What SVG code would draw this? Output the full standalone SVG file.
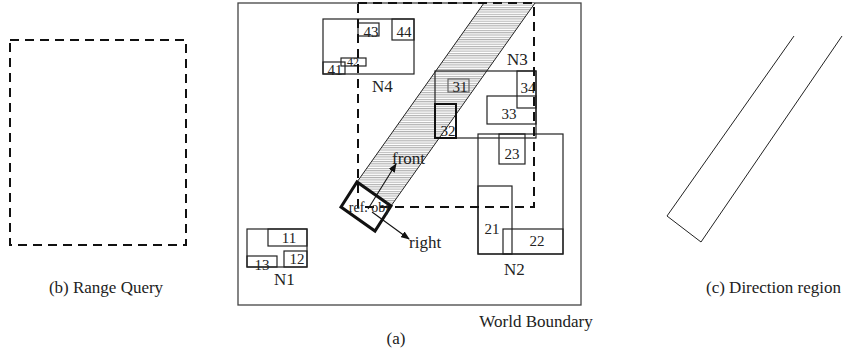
<svg xmlns="http://www.w3.org/2000/svg" width="843" height="358" viewBox="0 0 843 358">
<style>
text{font-family:"Liberation Serif","Times New Roman",serif;fill:#222;}
.lbl{font-size:17px;}
.num{font-size:15px;text-anchor:middle;}
.r{fill:none;stroke:#222;stroke-width:1.2;}
.g{fill:none;stroke:#666;stroke-width:1.2;}
.dash{fill:none;stroke:#111;stroke-width:2;stroke-dasharray:9 6;}
.thick{fill:none;stroke:#111;stroke-width:3;}
.edge{stroke:#222;stroke-width:1;fill:none;}
.arr{stroke:#111;stroke-width:1.1;fill:none;marker-end:url(#ah);}
</style>
<defs>
<pattern id="hatch" width="4" height="2.3" patternUnits="userSpaceOnUse">
<rect width="4" height="2.3" fill="#fff"/>
<line x1="0" y1="0.6" x2="4" y2="0.6" stroke="#777" stroke-width="0.7"/>
</pattern>
<marker id="ah" markerWidth="9" markerHeight="7" refX="8" refY="3.5" orient="auto" markerUnits="userSpaceOnUse">
<path d="M0,0 L9,3.5 L0,7 z" fill="#111"/>
</marker>
</defs>
<rect width="843" height="358" fill="#fff"/>

<g id="range-query-b">
<rect class="dash" x="10" y="40" width="176" height="205"/>
<text class="lbl" x="106" y="293" text-anchor="middle">(b) Range Query</text>
</g>

<g id="world">
<rect x="238" y="3" width="343" height="302" fill="none" stroke="#444" stroke-width="1.3"/>
<text class="lbl" x="536" y="327" text-anchor="middle">World Boundary</text>
<text class="lbl" x="396" y="344" text-anchor="middle">(a)</text>
</g>

<g id="direction-strip">
<polygon points="357,182 484,3 535,3 391,206" fill="url(#hatch)" stroke="none"/>
<line class="edge" x1="357" y1="182" x2="484" y2="3"/>
<line class="edge" x1="391" y1="206" x2="535" y2="3"/>
</g>

<g id="N4">
<rect class="r" x="323" y="19" width="91" height="55"/>
<rect class="r" x="358" y="23" width="21" height="13"/>
<rect class="r" x="392" y="19" width="22" height="21"/>
<rect class="r" x="341" y="58" width="25" height="8"/>
<rect class="r" x="323" y="62" width="22" height="12"/>
<text class="num" x="371" y="37">43</text>
<text class="num" x="404" y="37">44</text>
<text class="num" x="353" y="66" style="font-size:12px">42</text>
<text class="num" x="335" y="75">41</text>
<text class="lbl" x="372" y="92">N4</text>
</g>

<g id="N3">
<rect class="r" x="435" y="71" width="101" height="67"/>
<rect class="g" x="448" y="79" width="21" height="13"/>
<rect class="r" x="517" y="71" width="19" height="37"/>
<rect class="r" x="487" y="96" width="49" height="28"/>
<rect x="435" y="104" width="21" height="34" fill="none" stroke="#111" stroke-width="2"/>
<text class="num" x="460" y="92">31</text>
<text class="num" x="528" y="93">34</text>
<text class="num" x="509" y="119">33</text>
<text class="num" x="448" y="136">32</text>
<text class="lbl" x="507" y="65">N3</text>
</g>

<g id="N2">
<rect class="r" x="478" y="134" width="85" height="120"/>
<rect class="r" x="499" y="134" width="26" height="30"/>
<rect class="r" x="478" y="186" width="34" height="68"/>
<rect class="r" x="503" y="229" width="60" height="25"/>
<text class="num" x="512" y="159">23</text>
<text class="num" x="492" y="234">21</text>
<text class="num" x="537" y="246">22</text>
<text class="lbl" x="504" y="275">N2</text>
</g>

<g id="N1">
<rect class="r" x="247" y="229" width="60" height="38"/>
<rect class="r" x="268" y="229" width="39" height="17"/>
<rect class="r" x="284" y="251" width="23" height="16"/>
<rect class="r" x="247" y="256" width="30" height="11"/>
<text class="num" x="289" y="243">11</text>
<text class="num" x="297" y="264">12</text>
<text class="num" x="262" y="270">13</text>
<text class="lbl" x="274" y="285">N1</text>
</g>

<g id="range-query-a">
<rect class="dash" x="358" y="3" width="176" height="204"/>
</g>

<g id="ref-obj">
<polygon class="thick" points="341,207 357,182 391,206 375,231"/>
<text x="369" y="212" text-anchor="middle" style="font-size:14px">ref. obj</text>
</g>

<g id="connectors">
<line class="arr" x1="368" y1="209" x2="396" y2="164"/>
<line class="arr" x1="372" y1="212" x2="409" y2="239"/>
</g>
<g id="arrow-labels">
<text class="lbl" x="392" y="164">front</text>
<text class="lbl" x="409" y="248">right</text>
</g>

<g id="direction-region-c">
<polyline points="794,36 667,216 701,242 842,36" fill="none" stroke="#222" stroke-width="1"/>
<text class="lbl" x="706" y="293">(c) Direction region</text>
</g>
</svg>
